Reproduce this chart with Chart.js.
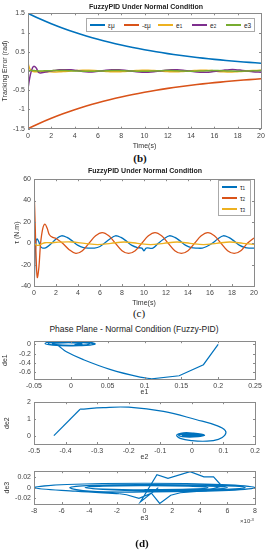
<!DOCTYPE html>
<html>
<head>
<meta charset="utf-8">
<script src="https://cdn.jsdelivr.net/npm/chart.js@4.4.0/dist/chart.umd.min.js"></script>
<style>
  body { margin:0; background:#fff; width:268px; height:550px; position:relative; overflow:hidden; font-family:'Liberation Sans', Arial, sans-serif; }
  canvas { position:absolute; left:0; }
  .lbl { position:absolute; transform:translate(-50%,-50%); white-space:nowrap; color:#222; z-index:2; }
  .cap { font-family:'Liberation Serif', 'DejaVu Serif', serif; font-size:11px; color:#111; }
  .legend { position:absolute; border:1px solid #aaa; background:#fff; box-sizing:border-box; font-size:6.5px; color:#222; z-index:3; }
  .legend .item { position:absolute; display:flex; align-items:center; height:8px; }
  .legend .item i { display:inline-block; width:15px; height:1.6px; margin-right:3px; }
  .sb { font-size:70%; position:relative; top:1.5px; }
  .sp { font-size:70%; position:relative; top:-2.5px; }
</style>
</head>
<body>

<div class="lbl" style="left:146px;top:6px;font-size:7px;font-weight:bold;">FuzzyPID Under Normal Condition</div>
<div class="legend" style="left:86px;top:18px;width:169px;height:14px;">
  <span class="item" style="left:3px;top:2px;"><i style="background:#0072BD"></i>εμ</span>
  <span class="item" style="left:37px;top:2px;"><i style="background:#D95319"></i>-εμ</span>
  <span class="item" style="left:71px;top:2px;"><i style="background:#EDB120"></i>e<span class="sb">1</span></span>
  <span class="item" style="left:105px;top:2px;"><i style="background:#7E2F8E"></i>e<span class="sb">2</span></span>
  <span class="item" style="left:139px;top:2px;"><i style="background:#77AC30"></i>e3</span>
</div>
<div class="lbl cap" style="left:140px;top:158px;font-weight:bold;">(b)</div>

<div class="lbl" style="left:145px;top:170px;font-size:7px;font-weight:bold;">FuzzyPID Under Normal Condition</div>
<div class="legend" style="left:218px;top:180px;width:33px;height:36px;">
  <span class="item" style="left:3px;top:2px;"><i style="background:#0072BD"></i>τ<span class="sb">1</span></span>
  <span class="item" style="left:3px;top:13px;"><i style="background:#D95319"></i>τ<span class="sb">2</span></span>
  <span class="item" style="left:3px;top:24px;"><i style="background:#EDB120"></i>τ<span class="sb">3</span></span>
</div>
<div class="lbl cap" style="left:139px;top:313px;">(c)</div>

<div class="lbl" style="left:134px;top:329px;font-size:8.5px;">Phase Plane - Normal Condition (Fuzzy-PID)</div>
<div class="lbl" style="left:247px;top:521px;font-size:6px;color:#444;">×10<span class="sp">-3</span></div>
<div class="lbl cap" style="left:142px;top:543px;font-weight:bold;">(d)</div>

<canvas id="c1"></canvas>
<canvas id="c2"></canvas>
<canvas id="c3"></canvas>
<canvas id="c4"></canvas>
<canvas id="c5"></canvas>

<script>
// (b) tracking errors
const epsTime = [0,1,2,3,4,5,6,7,8,9,10,11,12,13,14,15,16,17,18,19,20];
const epsMu = [1.5,1.357,1.228,1.111,1.005,0.91,0.823,0.745,0.674,0.61,0.552,0.499,0.452,0.409,0.37,0.335,0.303,0.274,0.248,0.224,0.203];
const negEpsMu = [-1.5,-1.357,-1.228,-1.111,-1.005,-0.91,-0.823,-0.745,-0.674,-0.61,-0.552,-0.499,-0.452,-0.409,-0.37,-0.335,-0.303,-0.274,-0.248,-0.224,-0.203];
const errTime = [0,0.2,0.4,0.55,0.7,0.9,1.1,1.4,1.8,2.2,2.7,3.2,3.7,4.2,4.7,5.2,5.7,6.2,6.7,7.2,7.8,8.3,8.8,9.3,9.8,10.3,10.8,11.3,11.8,12.3,12.8,13.3,13.8,14.3,14.8,15.3,15.8,16.3,16.8,17.3,17.8,18.3,18.8,19.3,20];
const err1 = [0.2,0.03,-0.01,-0.02,-0.02,-0.015,-0.01,-0.015,-0.02,-0.025,-0.02,-0.01,0,0.01,0.02,0.02,0.015,0,-0.01,-0.02,-0.02,-0.01,0,0.01,0.02,0.02,0.01,0,-0.01,-0.02,-0.02,-0.01,0,0.01,0.02,0.02,0.01,-0.01,-0.02,-0.025,-0.02,-0.01,0,0.01,0.02];
const err2 = [-0.45,-0.1,0.09,0.12,0.08,-0.03,-0.05,-0.03,-0.01,0.01,0.03,0.035,0.03,0.01,-0.015,-0.025,-0.02,0,0.02,0.03,0.03,0.02,0,-0.02,-0.03,-0.03,-0.02,0,0.02,0.03,0.03,0.02,0,-0.02,-0.03,-0.035,-0.02,0,0.02,0.035,0.035,0.02,0,-0.02,-0.03];
const err3 = [0,0.01,0.015,0.01,0.005,0,0,0.005,0.005,0.01,0.01,0.01,0.005,0,-0.005,-0.005,-0.005,0,0.005,0.01,0.01,0.005,0,-0.005,-0.005,-0.005,0,0.005,0.01,0.01,0.005,0,-0.005,-0.005,0,0.005,0.01,0.01,0.005,0,-0.005,-0.005,0,0.005,0.01];
const timeTicks = [0,2,4,6,8,10,12,14,16,18,20];
const errTicks = [-1.5,-1,-0.5,0,0.5,1,1.5];

// (c) torques
const tauTime1 = [0,0.1,0.2,0.3,0.45,0.6,0.8,1.1,1.5,2.0,2.5,3.0,3.5,4.0,4.5,5.0,5.5,6.0,6.4,6.9,7.4,7.9,8.4,8.9,9.4,9.8,10.0,10.2,10.8,11.3,11.8,12.3,12.8,13.3,13.8,14.3,14.8,15.3,15.7,16.2,16.7,17.2,17.7,18.2,18.7,19.2,19.6,20];
const tau1 = [-45,-12,3,4,1,-3,-4.5,-4,-1,4,7,5.5,2,-2,-4,-4.5,-4.5,-3,0,4,7,5.5,2,-2,-4,-4.5,-7,-4.5,-4.5,0,4,7,5.5,2,-2,-4,-4.5,-4.5,-3,0,4,7,5.5,2,-2,-4,-4.5,-4.5];
const tauTime2 = [0,0.1,0.2,0.3,0.45,0.6,0.8,1.0,1.2,1.4,1.7,2.0,2.6,3.2,3.8,4.4,5.0,5.6,6.2,6.8,7.4,8.0,8.6,9.2,9.8,10.4,11.0,11.6,12.2,12.8,13.4,14.0,14.6,15.2,15.8,16.4,17.0,17.6,18.2,18.8,19.4,20];
const tau2 = [52,20,-15,-32,-22,0,14,18,14,8,5.5,4.5,0,-6,-9.5,-7,0,7,10,7,0,-7,-9.5,-7,0,7,10,7,0,-7,-9.5,-7,0,7,10,7,0,-7,-9.5,-7,0,5];
const tauTime3 = [0,0.3,0.6,1.0,1.5,2.2,3.4,4.6,5.8,7.0,8.2,9.4,10.6,11.8,13.0,14.2,15.4,16.6,17.8,19.0,20];
const tau3 = [0,-2,-1,0.5,0.5,1,1.2,0,-1.2,0,1.2,0,-1.2,0,1.2,0,-1.2,0,1.2,0,-1];
const tauTicks = [-40,-20,0,20,40,60];

// (d) phase planes
const e1Start = [0.2,0.18,0.147,0.11];
const de1Start = [0,-0.44,-0.68,-0.745];
const e1Loop = [0.11,0.094,0.053,0.017,-0.006,-0.017,-0.025,-0.015,0.005,0.025,0.033,0.02,0,-0.025,-0.035,-0.025,0,0.022,0.03,0.015,-0.01,-0.03,-0.03,-0.01,0.01,0.025,0.02,0,-0.02,-0.025,-0.01,0.01,0.015,0.005];
const de1Loop = [-0.745,-0.71,-0.54,-0.33,-0.16,-0.03,0.03,0.06,0.065,0.05,0.01,-0.02,-0.03,-0.015,0.02,0.055,0.06,0.045,0.005,-0.025,-0.025,0,0.035,0.05,0.045,0.02,-0.01,-0.02,-0.005,0.02,0.035,0.03,0.01,-0.005];
const e1Ticks = [-0.05,0,0.05,0.1,0.15,0.2,0.25];
const de1Ticks = [-0.6,-0.4,-0.2,0];

const e2Start = [-0.437,-0.354];
const de2Start = [0,1.58];
const e2Loop = [-0.354,-0.28,-0.2,-0.09,0.015,0.079,0.106,0.104,0.084,0.048,0,-0.037,-0.048,-0.027,0.005,0.04,0.02,-0.02,-0.042,-0.02,0.01,0.035,0.015,-0.02,-0.03,0,0.03,0,-0.02];
const de2Loop = [1.58,1.68,1.7,1.45,0.95,0.6,0.3,0.02,-0.22,-0.33,-0.3,-0.16,0.04,0.17,0.15,0.03,-0.06,-0.08,0.02,0.1,0.08,0.01,-0.04,-0.04,0.02,0.05,0.01,-0.02,0];
const e2Ticks = [-0.5,-0.4,-0.3,-0.2,-0.1,0,0.1,0.2];
const de2Ticks = [0,1,2];

// e3 in units of 1e-3
const e3Start = [1.0,-0.3,0.9,1.7,3.3,4.3,5.0,5.6,4.5,2.6,1.9,1.1,0.5,-0.4,-1.3,-1.8];
const de3Start = [0,-0.028,0.025,0.018,0.031,0.021,0.021,0.003,-0.006,-0.01,-0.015,-0.031,-0.011,-0.021,-0.014,-0.012];
const e3Loop = [-1.8,-5,-8,-5.6,0,5.6,8,5.6,0,-4,-5.4,-3.8,0,5.2,7.3,5.2,0,-3,-4.2,-3,0,4.2,6,4.2,0,-3,-4.3,-3,0,3.2,4.6,3.2,0];
const de3Loop = [-0.012,-0.007,0,0.006,0.0085,0.006,0,-0.006,-0.0085,-0.007,0,0.0045,0.006,0.0045,0,-0.0045,-0.006,-0.0035,0,0.0035,0.0045,0.0035,0,-0.0035,-0.0045,-0.003,0,0.003,0.004,0.003,0,-0.003,-0.004];
const e3Ticks = [-8,-6,-4,-2,0,2,4,6,8];
const de3Ticks = [-0.02,0,0.02];

const BLUE = '#0072BD', ORANGE = '#D95319', YELLOW = '#EDB120', PURPLE = '#7E2F8E', GREEN = '#77AC30';
const FONT = "'Liberation Sans', Arial, sans-serif";

function pts(xs, ys) { return xs.map((x, i) => ({ x, y: ys[i] })); }
function num(v) { return String(+Number(v).toFixed(4)); }

function line(xs, ys, color, opts) {
  return Object.assign({ data: pts(xs, ys), borderColor: color, borderWidth: 1.3, showLine: true, pointRadius: 0, tension: 0.35 }, opts || {});
}

// box around axes + small inward tick marks, like matlab
const matlabBox = {
  id: 'matlabBox',
  afterDatasetsDraw(chart) {
    const { ctx, chartArea: a, scales } = chart;
    ctx.save();
    ctx.strokeStyle = '#8a8a8a';
    ctx.lineWidth = 1;
    ctx.strokeRect(Math.round(a.left) + 0.5, Math.round(a.top) + 0.5, Math.round(a.right - a.left), Math.round(a.bottom - a.top));
    ctx.beginPath();
    scales.x.ticks.forEach(t => {
      const px = Math.round(scales.x.getPixelForValue(t.value)) + 0.5;
      ctx.moveTo(px, a.bottom); ctx.lineTo(px, a.bottom - 2);
      ctx.moveTo(px, a.top); ctx.lineTo(px, a.top + 2);
    });
    scales.y.ticks.forEach(t => {
      const py = Math.round(scales.y.getPixelForValue(t.value)) + 0.5;
      ctx.moveTo(a.left, py); ctx.lineTo(a.left + 2, py);
      ctx.moveTo(a.right, py); ctx.lineTo(a.right - 2, py);
    });
    ctx.stroke();
    ctx.restore();
  }
};

function axis(min, max, ticks, title, titlePad, fit) {
  return {
    type: 'linear', min, max,
    afterBuildTicks: s => { s.ticks = ticks.map(v => ({ value: v })); },
    afterFit: fit,
    grid: { display: false, drawTicks: false },
    border: { display: false },
    ticks: { callback: v => num(v), font: { family: FONT, size: 7 }, color: '#444', padding: 3, maxRotation: 0, autoSkip: false },
    title: { display: true, text: title, font: { family: FONT, size: 7 }, color: '#333', padding: titlePad }
  };
}

function plot(id, area, top, height, datasets, xa, ya) {
  const cv = document.getElementById(id);
  cv.style.top = top + 'px';
  cv.width = 268; cv.height = height;
  return new Chart(cv, {
    type: 'scatter',
    data: { datasets },
    options: {
      responsive: false, animation: false,
      layout: { padding: { left: 0, top: area.top - top, right: 268 - area.right, bottom: 0 } },
      plugins: { legend: { display: false }, tooltip: { enabled: false } },
      scales: {
        x: axis(xa.min, xa.max, xa.ticks, xa.title, { top: 0, bottom: 0 }, s => { s.height = top + height - area.bottom; }),
        y: axis(ya.min, ya.max, ya.ticks, ya.title, { top: ya.pad, bottom: 0 }, s => { s.width = area.left; })
      }
    },
    plugins: [matlabBox]
  });
}

plot('c1', { left: 28, right: 261, top: 13.3, bottom: 128.7 }, 0, 150, [
  line(epsTime, epsMu, BLUE, { borderWidth: 1.6, order: 5 }),
  line(epsTime, negEpsMu, ORANGE, { borderWidth: 1.6, order: 4 }),
  line(errTime, err1, YELLOW, { borderWidth: 1.5, order: 3 }),
  line(errTime, err2, PURPLE, { borderWidth: 1.5, order: 2 }),
  line(errTime, err3, GREEN, { borderWidth: 1.5, order: 1 })
], { min: 0, max: 20, ticks: timeTicks, title: 'Time(s)' },
   { min: -1.5, max: 1.5, ticks: errTicks, title: 'Tracking Error (rad)', pad: 1 });

plot('c2', { left: 34, right: 254, top: 177, bottom: 286 }, 172, 135, [
  line(tauTime1, tau1, BLUE, { order: 3 }),
  line(tauTime2, tau2, ORANGE, { order: 2 }),
  line(tauTime3, tau3, YELLOW, { order: 1 })
], { min: 0, max: 20, ticks: timeTicks, title: 'Time(s)' },
   { min: -40, max: 60, ticks: tauTicks, title: 'τ (N.m)', pad: 13 });

plot('c3', { left: 34, right: 255, top: 339, bottom: 379 }, 334, 62, [
  line(e1Start, de1Start, BLUE, { tension: 0, borderWidth: 1.2 }),
  line(e1Loop, de1Loop, BLUE, { tension: 0.4, borderWidth: 1.2 })
], { min: -0.05, max: 0.25, ticks: e1Ticks, title: 'e1' },
   { min: -0.75, max: 0.07, ticks: de1Ticks, title: 'de1', pad: 1 });

plot('c4', { left: 34, right: 255, top: 400, bottom: 444 }, 395, 66, [
  line(e2Start, de2Start, BLUE, { tension: 0, borderWidth: 1.2 }),
  line(e2Loop, de2Loop, BLUE, { tension: 0.4, borderWidth: 1.2 })
], { min: -0.5, max: 0.2, ticks: e2Ticks, title: 'e2' },
   { min: -0.5, max: 2, ticks: de2Ticks, title: 'de2', pad: 3 });

plot('c5', { left: 34, right: 255, top: 469, bottom: 504 }, 464, 58, [
  line(e3Start, de3Start, BLUE, { tension: 0, borderWidth: 1.2 }),
  line(e3Loop, de3Loop, BLUE, { tension: 0.4, borderWidth: 1.2 })
], { min: -8, max: 8, ticks: e3Ticks, title: 'e3' },
   { min: -0.032, max: 0.032, ticks: de3Ticks, title: 'de3', pad: 3 });
</script>
</body>
</html>
